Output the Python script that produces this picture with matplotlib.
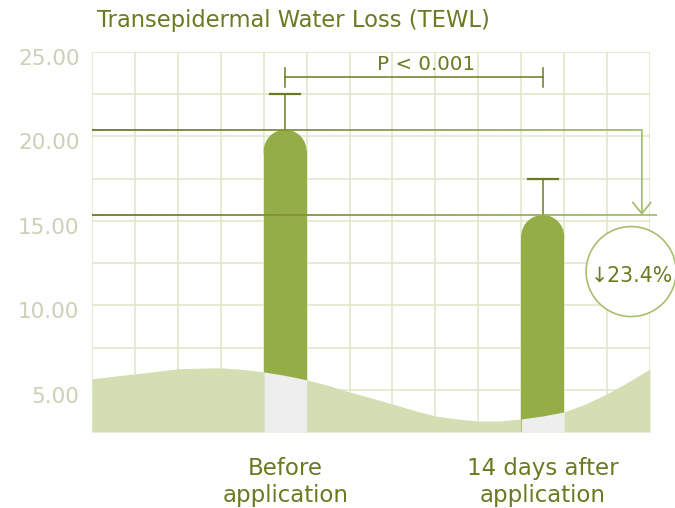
import numpy as np
import matplotlib
matplotlib.use("Agg")
import matplotlib.pyplot as plt
from matplotlib.patches import Rectangle, Ellipse, FancyArrowPatch
from matplotlib.collections import LineCollection
from matplotlib.colors import to_rgb
from matplotlib.transforms import ScaledTranslation

plt.rcParams['font.family'] = ['DejaVu Sans']

# data
categories = ["Before\napplication", "14 days after\napplication"]
bar_x = [4.5, 10.5]
tewl = [20.4, 15.35]
tewl_err = [2.1, 2.15]
p_text = "P < 0.001"
drop_text = "\u219323.4%"
y_labels = ["5.00", "10.00", "15.00", "20.00", "25.00"]
y_ticks = [5, 10, 15, 20, 25]

# background wave (x in grid cells, y in TEWL units)
wave_x = [0, 0.5, 1, 1.5, 2, 2.5, 3, 3.5, 4, 4.5, 5, 5.5, 6, 6.5,
          7, 7.5, 8, 8.5, 9, 9.5, 10, 10.5, 11, 11.5, 12, 12.5, 13]
wave_y = [5.65, 5.80, 5.94, 6.09, 6.24, 6.28, 6.30, 6.21, 6.06, 5.85, 5.59, 5.26, 4.87, 4.52,
          4.16, 3.78, 3.45, 3.27, 3.15, 3.15, 3.27, 3.45, 3.69, 4.16, 4.76, 5.47, 6.24]

dark = "#6b7a22"
light = "#a9be6d"
bar_col = "#95ad47"
wave_col = "#d3deb3"
grey = "#eeeeee"
grid_col = "#dfe7c8"

fig = plt.figure(figsize=(6.75, 5.08), dpi=100)
ax = fig.add_axes([92/675, 76/508, 558/675, 380/508])
ax.set_xlim(0, 13)
ax.set_ylim(2.5, 25)
for s in ax.spines.values():
    s.set_visible(False)

# grid
for gx in range(0, 14):
    ax.axvline(gx, color=grid_col, lw=1.1, zorder=0)
for gy in np.arange(2.5, 25.1, 2.5):
    ax.axhline(gy, color=grid_col, lw=1.1, zorder=0)

# wave
wx = np.array(wave_x)
wy = np.array(wave_y)
ax.fill_between(wx, 2.5, wy, color=wave_col, lw=0, zorder=1)

# px per data unit, for round tops
p0 = ax.transData.transform((0, 0))
p1 = ax.transData.transform((1, 1))
px_x = p1[0] - p0[0]
px_y = p1[1] - p0[1]

w = 1.0
for xc, v in zip(bar_x, tewl):
    ry = (w / 2 * px_x) / px_y
    ax.add_patch(Rectangle((xc - w/2, 2.5), w, v - ry - 2.5, color=bar_col, lw=0, zorder=2))
    ax.add_patch(Ellipse((xc, v - ry), w, 2 * ry, color=bar_col, lw=0, zorder=2))
    m = (wx >= xc - w/2) & (wx <= xc + w/2)
    ax.fill_between(wx[m], 2.5, wy[m], color=grey, lw=0, zorder=3)

# error bars
for xc, v, e in zip(bar_x, tewl, tewl_err):
    ax.plot([xc, xc], [v, v + e], color=dark, lw=1.1, zorder=4)
    ax.plot([xc - 0.35, xc + 0.35], [v + e, v + e], color=dark, lw=1.6, zorder=4)

# significance bracket
yb = 23.5
ax.plot(bar_x, [yb, yb], color=dark, lw=1.1, zorder=4, clip_on=False)
for xc in bar_x:
    ax.plot([xc, xc], [yb - 0.55, yb + 0.55], color=dark, lw=1.1, zorder=4)
ax.text(7.78, yb + 0.2, p_text, ha='center', va='bottom', fontsize=14.3, color=dark, zorder=6)

# reference lines with colour fade
c0 = np.array(to_rgb(dark))
c1 = np.array(to_rgb(light))


def fade_line(x_end, y):
    xs = np.linspace(0, x_end, 80)
    segs = [[(xs[i], y), (xs[i + 1], y)] for i in range(len(xs) - 1)]
    cols = [c0 + (c1 - c0) * min(xs[i] / 13, 1) for i in range(len(xs) - 1)]
    lc = LineCollection(segs, colors=cols, lw=1.3, zorder=4, clip_on=False)
    ax.add_collection(lc)


x_arrow = 12.81
fade_line(x_arrow, tewl[0])
fade_line(13.16, tewl[1])
arr = FancyArrowPatch((x_arrow, tewl[0]), (x_arrow, tewl[1]),
                      arrowstyle='->,head_length=0.8,head_width=0.65',
                      mutation_scale=10, color=light, lw=1.3,
                      shrinkA=0, shrinkB=0, zorder=4, clip_on=False)
ax.add_patch(arr)

# circle with the drop
cx, cy = 12.56, 12.0
r_px = 45
ax.add_patch(Ellipse((cx, cy), 2 * r_px / px_x, 2 * r_px / px_y, facecolor='white',
                     edgecolor=light, lw=1.2, zorder=5, clip_on=False))
ax.text(cx + 0.02, cy - 0.25, drop_text, ha='center', va='center', fontsize=14.8,
        color=dark, zorder=6, clip_on=False)

# ticks
ax.set_yticks(y_ticks)
ax.set_yticklabels(y_labels, fontsize=15.5, color="#cbd0b8")
ax.set_xticks(bar_x)
ax.set_xticklabels(categories, fontsize=16.5, color=dark, linespacing=1.22)
ax.tick_params(axis='y', length=0, pad=9)
ax.tick_params(axis='x', length=0, pad=18)
off = ScaledTranslation(0, -0.05, fig.dpi_scale_trans)
for lab in ax.get_yticklabels():
    lab.set_transform(lab.get_transform() + off)

fig.text(97/675, 1 - 20/508, "Transepidermal Water Loss (TEWL)", ha='left', va='center',
         fontsize=16.3, color=dark)

fig.savefig("out.png", dpi=100)
